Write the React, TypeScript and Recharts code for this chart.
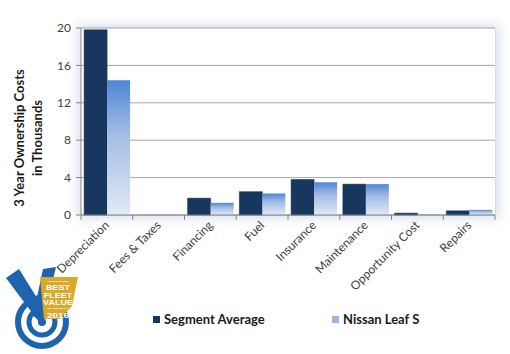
import { BarChart, Bar, XAxis, YAxis, CartesianGrid } from 'recharts';

const categories = [
  'Depreciation',
  'Fees & Taxes',
  'Financing',
  'Fuel',
  'Insurance',
  'Maintenance',
  'Opportunity Cost',
  'Repairs',
];
const segmentAverage = [19.8, 0, 1.8, 2.5, 3.8, 3.3, 0.2, 0.45];
const nissanLeafS = [14.4, 0, 1.3, 2.3, 3.5, 3.3, 0.1, 0.55];
const yTicks = [0, 4, 8, 12, 16, 20];

const data = categories.map((name, i) => ({
  name,
  segment: segmentAverage[i],
  leaf: nissanLeafS[i],
}));

const FONT = 'Lato, Carlito, Calibri, sans-serif';
const BAND = 414 / categories.length;

function CategoryTick({ x, y, payload, index }: any) {
  const half = BAND / 2;
  return (
    <g>
      <line x1={x - half} y1={y} x2={x - half} y2={y + 5} stroke="#868686" />
      {index === categories.length - 1 && (
        <line x1={x + half} y1={y} x2={x + half} y2={y + 5} stroke="#868686" />
      )}
      <text
        x={0}
        y={0}
        transform={`translate(${x + 3},${y + 11}) rotate(-45)`}
        textAnchor="end"
        fontSize={12}
        fill="#404040"
        fontFamily={FONT}
      >
        {payload.value}
      </text>
    </g>
  );
}

function AxisTitle() {
  return (
    <g fontFamily={FONT} fontWeight="bold" fontSize={13} fill="#1a1a1a" textAnchor="middle">
      <text transform="translate(24,138) rotate(-90)">3 Year Ownership Costs</text>
      <text transform="translate(42,138) rotate(-90)">in Thousands</text>
    </g>
  );
}

// squashed white lines inside the gold shield
const logoLines = [
  { t: 'VINCENTRIC', y: 26, s: 3.5 },
  { t: 'BEST', y: 34, s: 9 },
  { t: 'FLEET', y: 41.5, s: 9 },
  { t: 'VALUE', y: 49, s: 9 },
  { t: 'IN AMERICA', y: 53, s: 3.5 },
  { t: '2016', y: 61.5, s: 10 },
];

function Logo() {
  return (
    <svg width={90} height={95} style={{ position: 'absolute', left: 0, top: 256 }}>
      <circle cx={42} cy={66} r={24} fill="none" stroke="#1d63ad" strokeWidth={6} />
      <circle cx={42} cy={66} r={13} fill="none" stroke="#1d63ad" strokeWidth={5} />
      <circle cx={42} cy={66} r={4} fill="#1d63ad" />
      <polygon points="6,22 19,13 47,58 39,66" fill="#1d63ad" />
      <polygon points="33,60 43,13 56,11 43,66" fill="#1d63ad" />
      <polygon points="40,21 78,21 72,50 60,63 44,63" fill="#d9a92b" />
      <g fill="#fff" fontFamily="Liberation Sans, Arial, sans-serif" fontWeight="bold" textAnchor="middle">
        {logoLines.map((l) => (
          <text key={l.t} transform={`translate(58,${l.y}) scale(1,0.72)`} fontSize={l.s}>
            {l.t}
          </text>
        ))}
      </g>
    </svg>
  );
}

function LegendItem({ label, fill, left }: { label: string; fill: string; left: number }) {
  return (
    <div
      style={{
        position: 'absolute',
        left,
        top: 311,
        display: 'flex',
        alignItems: 'center',
        fontFamily: FONT,
        fontWeight: 'bold',
        fontSize: 13,
        color: '#1a1a1a',
      }}
    >
      <span style={{ width: 7, height: 7, background: fill, marginRight: 4, display: 'inline-block' }} />
      {label}
    </div>
  );
}

export default function App() {
  return (
    <div style={{ position: 'absolute', left: 0, top: 0, width: 510, height: 354, background: '#fff' }}>
      <div
        style={{
          position: 'absolute',
          left: 81,
          top: 28,
          width: 414,
          height: 187,
          background: '#fff',
          borderRight: '1px solid #d3dceb',
          boxShadow: '0 0 10px 3px rgba(140,160,200,0.35)',
        }}
      />
      <div style={{ position: 'absolute', left: 0, top: 0 }}>
        <BarChart
          width={510}
          height={354}
          data={data}
          margin={{ top: 28, right: 15, bottom: 39, left: 0 }}
          barCategoryGap="6%"
          barGap={0}
        >
          <defs>
            <linearGradient id="leafGrad" x1="0" y1="0" x2="0" y2="1">
              <stop offset="0%" stopColor="#4f86d3" />
              <stop offset="40%" stopColor="#a3bde6" />
              <stop offset="100%" stopColor="#e2e9f6" />
            </linearGradient>
          </defs>
          <CartesianGrid vertical={false} stroke="#a6a6a6" />
          <XAxis
            dataKey="name"
            interval={0}
            height={100}
            tickLine={false}
            tickSize={0}
            tickMargin={0}
            axisLine={{ stroke: '#868686' }}
            tick={<CategoryTick />}
          />
          <YAxis
            width={81}
            domain={[0, 20]}
            ticks={yTicks}
            tickSize={5}
            tickMargin={5}
            axisLine={{ stroke: '#868686' }}
            tickLine={{ stroke: '#868686' }}
            tick={{ fontSize: 12, fill: '#404040', fontFamily: FONT }}
            label={{ content: () => <AxisTitle /> }}
          />
          <Bar dataKey="segment" fill="#17375e" stroke="#122c4c" strokeWidth={0.5} isAnimationActive={false} />
          <Bar dataKey="leaf" fill="url(#leafGrad)" isAnimationActive={false} />
        </BarChart>
      </div>
      <Logo />
      <LegendItem label="Segment Average" fill="#17375e" left={153} />
      <LegendItem label="Nissan Leaf S" fill="#9ab6e2" left={332} />
    </div>
  );
}
